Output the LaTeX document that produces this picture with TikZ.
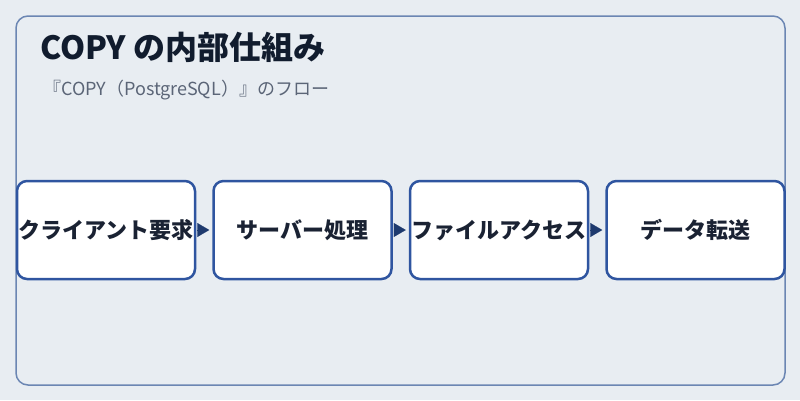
\documentclass[tikz,border=0pt]{standalone}
\usepackage{fontspec}
\setmainfont{Noto Sans CJK JP}
\usetikzlibrary{arrows.meta,positioning}
\definecolor{pagebg}{HTML}{E8EDF2}
\definecolor{framecol}{HTML}{6B86B3}
\definecolor{boxcol}{HTML}{2F55A0}
\definecolor{arrowcol}{HTML}{1E3A6E}
\definecolor{titlecol}{HTML}{111C2E}
\definecolor{subcol}{HTML}{5B6577}
\definecolor{textcol}{HTML}{1A2233}
\tikzset{
  stepbox/.style={draw=boxcol,line width=2.5pt,fill=white,rounded corners=10pt,
    minimum width=178pt,minimum height=98pt,inner sep=0pt,
    text=textcol,font=\fontsize{22}{26}\selectfont\bfseries},
  flow/.style={arrowcol,line width=0.1pt,-{Triangle[length=12pt,width=14pt]},
    shorten <=2pt,shorten >=3pt}
}
\begin{document}
\begin{tikzpicture}[x=1pt,y=-1pt]
  \fill[pagebg] (0,0) rectangle (800,400);
  \useasboundingbox (0,0) rectangle (800,400);
  \draw[framecol,line width=1.5pt,rounded corners=12pt] (16,16) rectangle (785,385);
  \node[anchor=base west,inner sep=0pt,text=titlecol,font=\fontsize{32}{36}\selectfont\bfseries] (title) at (40,59) {COPY の内部仕組み};
  \node[anchor=base west,text=subcol,font=\fontsize{18}{22}\selectfont,inner sep=0pt] (sub) at (43,95) {『COPY（PostgreSQL）』のフロー};
  \node[stepbox] (client) at (106,230) {クライアント要求};
  \node[stepbox,right=16pt of client] (server) {サーバー処理};
  \node[stepbox,right=16pt of server] (file) {ファイルアクセス};
  \node[stepbox,right=16pt of file] (transfer) {データ転送};
  \draw[flow] (client) -- (server);
  \draw[flow] (server) -- (file);
  \draw[flow] (file) -- (transfer);
\end{tikzpicture}
\end{document}
